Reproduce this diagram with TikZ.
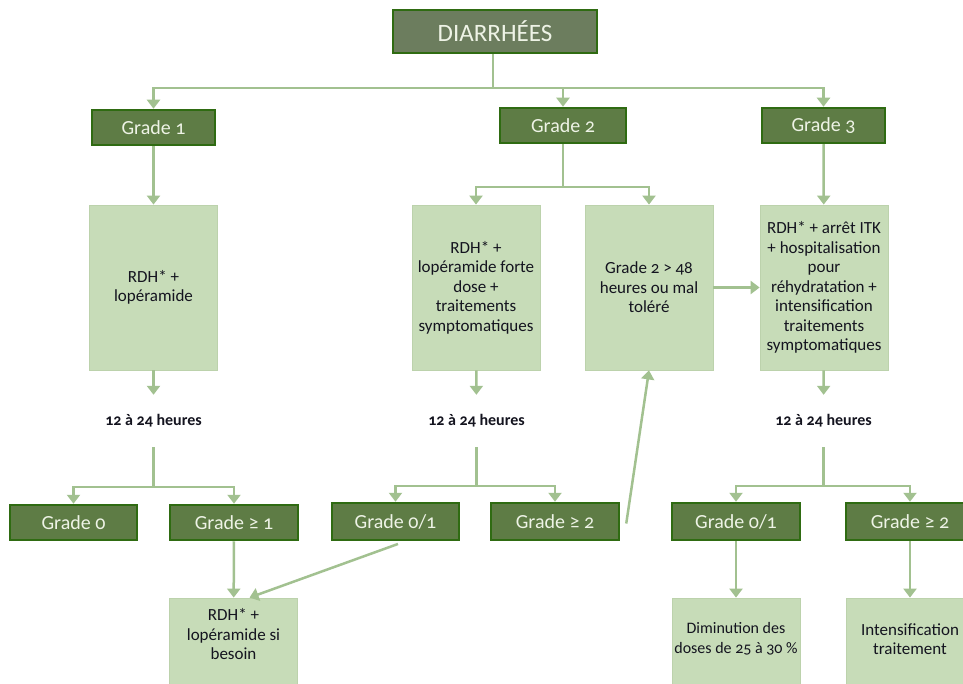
\documentclass[tikz,border=0pt]{standalone}
\usepackage{fontspec}
\setmainfont{Carlito}[Numbers=OldStyle]
\usetikzlibrary{arrows.meta}
\definecolor{gfill}{HTML}{5E7C45}
\definecolor{gborder}{HTML}{2F6B12}
\definecolor{dfill}{HTML}{6C7D5E}
\definecolor{lfill}{HTML}{C7DCB8}
\definecolor{lborder}{HTML}{BCD2AC}
\definecolor{arrc}{HTML}{A2C190}
\definecolor{gtext}{HTML}{EEF3E6}
\definecolor{btext}{HTML}{14141F}
\tikzset{
  gbox/.style={draw=gborder, line width=2.5pt, fill=gfill, text=gtext, font=\fontsize{20}{22}\selectfont, inner sep=0pt, minimum height=35pt},
  tbox/.style={draw=lborder, line width=0.8pt, fill=lfill, text=btext, font=\fontsize{17}{19.5}\selectfont, align=center, inner sep=0.5pt, minimum width=128pt},
  lbl/.style={text=btext, font=\fontsize{16}{19}\selectfont\bfseries, inner sep=0pt, minimum height=52pt},
  ln/.style={draw=arrc, line width=2.5pt},
  arr/.style={ln, -{Triangle[width=13pt,length=9pt]}},
}
\begin{document}
\begin{tikzpicture}[x=1pt,y=-1pt]
\clip (0,0) rectangle (963,684);
\fill[white] (0,0) rectangle (963,684);
% top
\node[gbox, fill=dfill, minimum width=204pt, minimum height=43pt, font=\fontsize{25}{27}\selectfont] (D) at (495,31.5) {DIARRHÉES};
\node[gbox, minimum width=123pt] (G1) at (153.5,127.5) {Grade 1};
\node[gbox, minimum width=126pt] (G2) at (563,125.5) {Grade 2};
\node[gbox, minimum width=123pt] (G3) at (823.5,125.5) {Grade 3};
% treatment boxes
\node[tbox, minimum height=165pt] (R1) at (153.5,287.5) {RDH* +\\lopéramide};
\node[tbox, minimum height=165pt] (A) at (476,287.5) {RDH* +\\lopéramide forte\\dose +\\traitements\\symptomatiques};
\node[tbox, minimum height=165pt] (B) at (649,287.5) {Grade 2 > 48\\heures ou mal\\toléré};
\node[tbox, minimum height=165pt] (C) at (824,287.5) {RDH* + arrêt ITK\\+ hospitalisation\\pour\\réhydratation +\\intensification\\traitements\\symptomatiques};
% labels
\node[lbl] (L1) at (153.5,421) {12 à 24 heures};
\node[lbl] (L2) at (476.5,421) {12 à 24 heures};
\node[lbl] (L3) at (823.5,421) {12 à 24 heures};
% grades row
\node[gbox, minimum width=127pt] (G0) at (73.5,522.5) {Grade 0};
\node[gbox, minimum width=128pt] (Gge1) at (234,522.5) {Grade ≥ 1};
\node[gbox, minimum width=127pt, minimum height=37pt] (G01m) at (395.5,521.5) {Grade 0/1};
\node[gbox, minimum width=128pt, minimum height=37pt] (Gge2m) at (555,521.5) {Grade ≥ 2};
\node[gbox, minimum width=128pt, minimum height=37pt] (G01r) at (736,521.5) {Grade 0/1};
\node[gbox, minimum width=128pt, minimum height=37pt] (Gge2r) at (910,521.5) {Grade ≥ 2};
% bottom boxes
\node[tbox, minimum height=86pt, text depth=14pt] (S1) at (233.5,641) {RDH* +\\lopéramide si\\besoin};
\node[tbox, minimum height=86pt, text depth=6pt, font=\fontsize{16}{19.5}\selectfont] (Dim) at (736,641) {Diminution des\\doses de 25 à 30 \%};
\node[tbox, minimum height=86pt, text depth=4pt] (Int) at (910,641) {Intensification\\traitement};
% junctions
\coordinate (j0) at (493,88);
\coordinate (j2) at (563,187);
\coordinate (j4) at (153.5,487);
\coordinate (j5) at (476.5,486);
\coordinate (j6) at (823.5,486);
% connectors
\draw[ln] (D.south -| j0) -- (j0);
\draw[arr] (j0) -| (G1.north);
\draw[arr] (j0) -| (G2.north);
\draw[arr] (j0) -| (G3.north);
\draw[arr] (G1) -- (R1);
\draw[ln] (G2) -- (j2);
\draw[arr] (j2) -| (A.north);
\draw[arr] (j2) -| (B.north);
\draw[arr] (G3) -- (C);
\draw[arr] (B.east) -- (C.west);
\draw[arr] (R1) -- (L1);
\draw[arr] (A) -- (L2);
\draw[arr] (C) -- (L3);
\draw[ln] (L1) -- (j4);
\draw[arr] (j4) -| (G0.north);
\draw[arr] (j4) -| (Gge1.north);
\draw[ln] (L2) -- (j5);
\draw[arr] (j5) -| (G01m.north);
\draw[arr] (j5) -| (Gge2m.north);
\draw[ln] (L3) -- (j6);
\draw[arr] (j6) -| (G01r.north);
\draw[arr] (j6) -| (Gge2r.north);
\draw[arr] (Gge1) -- (S1);
\draw[arr, shorten <=8pt] ([xshift=10pt]G01m.south) -- ([xshift=16pt]S1.north);
\draw[arr] ([xshift=6pt,yshift=-2pt]Gge2m.east) -- (B.south);
\draw[arr] (G01r) -- (Dim);
\draw[arr] (Gge2r) -- (Int);
\end{tikzpicture}
\end{document}
